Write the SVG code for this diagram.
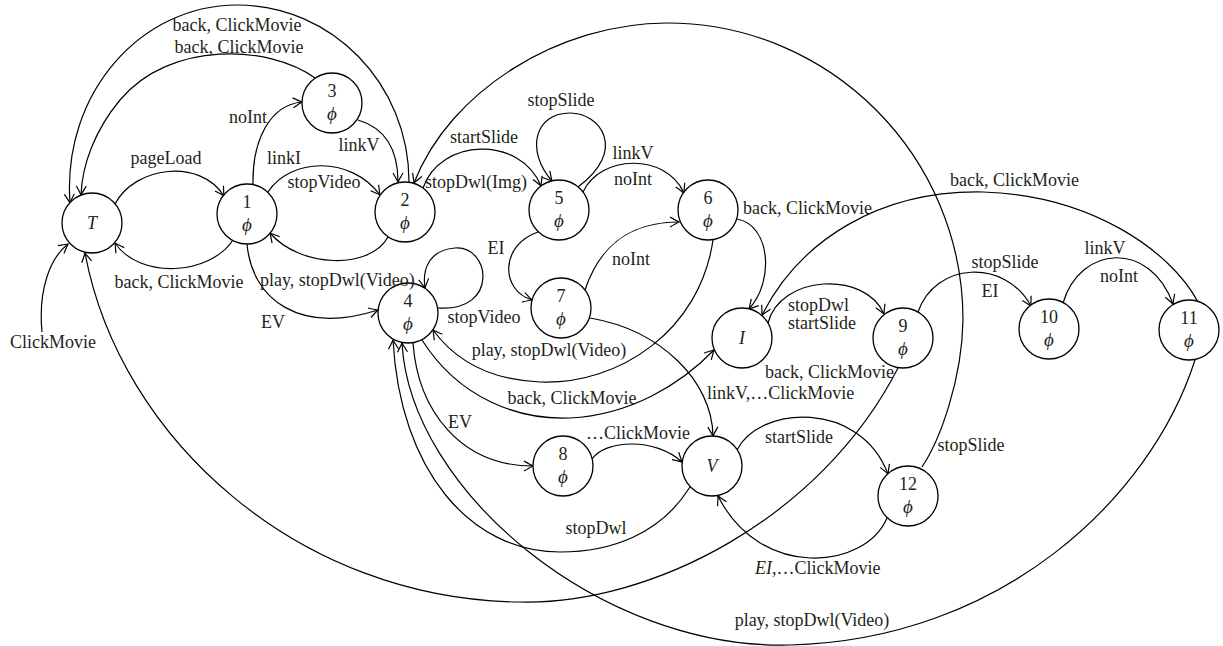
<svg xmlns="http://www.w3.org/2000/svg" width="1223" height="646" viewBox="0 0 1223 646">
<style>
.e{fill:none;stroke:#000;stroke-width:1.2;marker-end:url(#arr)}
.n{fill:#fff;stroke:#000;stroke-width:1.3}
text{font-family:"Liberation Serif",serif;font-size:18px;fill:#231f20}
.m{text-anchor:middle}
.it{font-style:italic}
.ph{font-style:italic;font-size:19px}
</style>
<defs>
<marker id="arr" viewBox="-11 -7 13 14" refX="0" refY="0" markerWidth="13" markerHeight="14" markerUnits="userSpaceOnUse" orient="auto">
<path d="M -9 -5 Q -3 -1.5 0 0 Q -3 1.5 -9 5" fill="none" stroke="#000" stroke-width="1.2"/>
</marker>
</defs>
<rect width="1223" height="646" fill="#fff"/>
<g id="connectors">
<path class="e" d="M 42 332 C 38 290 50 258 68 244"/>
<path class="e" d="M 115 204 C 135 166 200 158 224 196"/>
<path class="e" d="M 233 240 C 210 275 140 280 115 243"/>
<path class="e" d="M 253 185 C 252 140 270 105 302 102"/>
<path class="e" d="M 358 120 C 385 128 398 150 398 182"/>
<path class="e" d="M 268 192 C 290 158 350 155 380 195"/>
<path class="e" d="M 388 237 C 370 270 300 268 270 233"/>
<path class="e" d="M 247 244 C 252 300 300 335 378 310"/>
<path class="e" d="M 409 182 C 409 84 332 5 237 5 C 142 5 62 92 70 203"/>
<path class="e" d="M 315 78 C 270 45 170 40 120 100 C 95 130 82 165 81 195"/>
<path class="e" d="M 423 188 C 440 138 520 135 541 186"/>
<path class="e" d="M 578 187 C 628 150 600 113 570 113 C 535 113 525 150 552 181"/>
<path class="e" d="M 583 192 C 600 155 665 152 684 193"/>
<path class="e" d="M 538 232 C 500 245 500 290 532 300"/>
<path class="e" d="M 585 290 C 600 245 630 222 679 222"/>
<path class="e" d="M 737 219 C 770 225 775 280 749 309"/>
<path class="e" d="M 1198 302 C 1170 250 1090 195 983 192 C 880 190 800 240 762 315"/>
<path class="e" d="M 768 323 C 780 275 865 270 884 314"/>
<path class="e" d="M 918 312 C 935 262 1005 258 1031 306"/>
<path class="e" d="M 1063 303 C 1080 245 1150 240 1173 304"/>
<path class="e" d="M 438 308 C 500 312 490 245 455 248 C 430 250 422 268 425 288"/>
<path class="e" d="M 713 240 C 700 330 620 385 540 382 C 490 380 455 360 433 330"/>
<path class="e" d="M 422 340 C 460 400 520 420 570 418 C 630 415 680 385 714 350"/>
<path class="e" d="M 413 343 C 418 410 460 466 533 466"/>
<path class="e" d="M 592 459 C 605 440 655 437 682 462"/>
<path class="e" d="M 590 318 C 660 330 712 380 713 436"/>
<path class="e" d="M 737 450 C 760 405 860 400 888 474"/>
<path class="e" d="M 887 518 C 865 570 760 580 718 496"/>
<path class="e" d="M 690 487 C 660 535 610 552 560 552 C 470 552 400 470 393 340"/>
<path class="e" d="M 1195 360 C 1150 500 1000 640 790 645 C 600 650 410 490 402 343"/>
<path class="e" d="M 898 368 C 820 520 650 605 520 602 C 300 600 120 440 85 253"/>
<path class="e" d="M 922 467 C 940 440 962 380 963 320 C 963 156 830 23 667 23 C 560 23 450 90 414 183"/>
</g>
<g id="node-T"><circle class="n" cx="92" cy="223" r="30"/><text class="m it" x="92" y="229">T</text></g>
<g id="node-1"><circle class="n" cx="247" cy="214" r="30"/><text class="m" x="247" y="208">1</text><text class="m ph" x="247" y="231">ϕ</text></g>
<g id="node-2"><circle class="n" cx="405" cy="212" r="30"/><text class="m" x="405" y="206">2</text><text class="m ph" x="405" y="229">ϕ</text></g>
<g id="node-3"><circle class="n" cx="332" cy="103" r="30"/><text class="m" x="332" y="97">3</text><text class="m ph" x="332" y="120">ϕ</text></g>
<g id="node-4"><circle class="n" cx="408" cy="313" r="30"/><text class="m" x="408" y="307">4</text><text class="m ph" x="408" y="330">ϕ</text></g>
<g id="node-5"><circle class="n" cx="559" cy="210" r="30"/><text class="m" x="559" y="204">5</text><text class="m ph" x="559" y="227">ϕ</text></g>
<g id="node-6"><circle class="n" cx="708" cy="210" r="30"/><text class="m" x="708" y="204">6</text><text class="m ph" x="708" y="227">ϕ</text></g>
<g id="node-7"><circle class="n" cx="561" cy="308" r="30"/><text class="m" x="561" y="302">7</text><text class="m ph" x="561" y="325">ϕ</text></g>
<g id="node-I"><circle class="n" cx="742" cy="338" r="30"/><text class="m it" x="742" y="344">I</text></g>
<g id="node-8"><circle class="n" cx="563" cy="466" r="30"/><text class="m" x="563" y="460">8</text><text class="m ph" x="563" y="483">ϕ</text></g>
<g id="node-V"><circle class="n" cx="712" cy="466" r="30"/><text class="m it" x="712" y="472">V</text></g>
<g id="node-9"><circle class="n" cx="903" cy="338" r="30"/><text class="m" x="903" y="332">9</text><text class="m ph" x="903" y="355">ϕ</text></g>
<g id="node-10"><circle class="n" cx="1049" cy="329" r="30"/><text class="m" x="1049" y="323">10</text><text class="m ph" x="1049" y="346">ϕ</text></g>
<g id="node-11"><circle class="n" cx="1189" cy="330" r="30"/><text class="m" x="1189" y="324">11</text><text class="m ph" x="1189" y="347">ϕ</text></g>
<g id="node-12"><circle class="n" cx="908" cy="496" r="30"/><text class="m" x="908" y="490">12</text><text class="m ph" x="908" y="513">ϕ</text></g>
<g id="edge-labels">
<text class="m" x="237" y="31">back, ClickMovie</text>
<text class="m" x="239" y="53">back, ClickMovie</text>
<text class="m" x="248" y="123">noInt</text>
<text class="m" x="359" y="151">linkV</text>
<text class="m" x="166" y="164">pageLoad</text>
<text class="m" x="284" y="164">linkI</text>
<text class="m" x="324" y="188">stopVideo</text>
<text class="m" x="179" y="288">back, ClickMovie</text>
<text x="260" y="286">play, stopDwl(Video)</text>
<text class="m" x="273" y="328">EV</text>
<text class="m" x="53" y="348">ClickMovie</text>
<text class="m" x="484" y="143">startSlide</text>
<text x="425" y="188">stopDwl(Img)</text>
<text class="m" x="561" y="106">stopSlide</text>
<text class="m" x="633" y="159">linkV</text>
<text class="m" x="633" y="185">noInt</text>
<text x="743" y="214">back, ClickMovie</text>
<text x="950" y="186">back, ClickMovie</text>
<text class="m" x="496" y="254">EI</text>
<text class="m" x="631" y="265">noInt</text>
<text class="m" x="484" y="323">stopVideo</text>
<text class="m" x="549" y="356">play, stopDwl(Video)</text>
<text class="m" x="572" y="404">back, ClickMovie</text>
<text x="788" y="311">stopDwl</text>
<text x="788" y="329">startSlide</text>
<text x="765" y="378">back, ClickMovie</text>
<text x="707" y="399">linkV,…ClickMovie</text>
<text class="m" x="460" y="428">EV</text>
<text class="m" x="638" y="439">…ClickMovie</text>
<text class="m" x="799" y="443">startSlide</text>
<text class="m" x="971" y="451">stopSlide</text>
<text class="m" x="596" y="534">stopDwl</text>
<text x="755" y="574"><tspan class="it">EI</tspan>,…ClickMovie</text>
<text class="m" x="812" y="626">play, stopDwl(Video)</text>
<text class="m" x="1005" y="268">stopSlide</text>
<text class="m" x="990" y="297">EI</text>
<text class="m" x="1105" y="254">linkV</text>
<text class="m" x="1119" y="282">noInt</text>
</g>
</svg>
